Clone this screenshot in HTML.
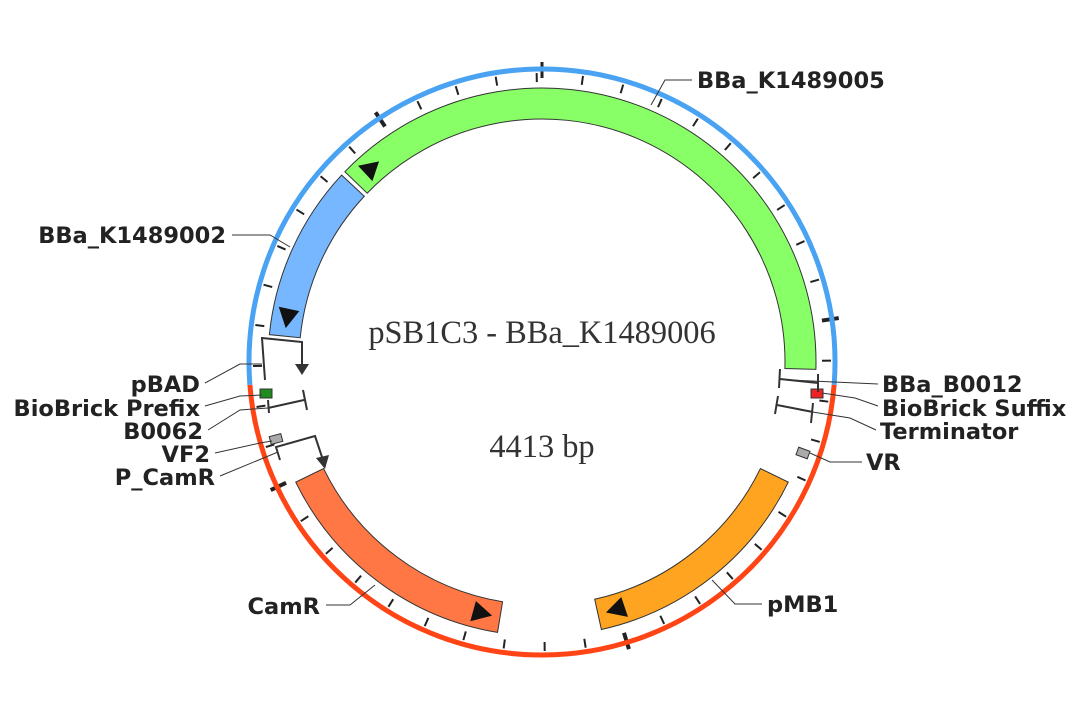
<!DOCTYPE html>
<html><head><meta charset="utf-8"><style>
body{margin:0;background:#fff}
svg{display:block}
.lb{font-family:"DejaVu Sans","Liberation Sans",sans-serif;font-weight:bold;font-size:22.5px;fill:#222}
.ld{fill:none;stroke:#333;stroke-width:1}
</style></head><body>
<svg id="map" width="1087" height="720" viewBox="0 0 1087 720" xmlns="http://www.w3.org/2000/svg">
<text x="542" y="343" text-anchor="middle" font-family="Liberation Serif,serif" font-size="32.4" fill="#333">pSB1C3 - BBa_K1489006</text>
<text x="542" y="457" text-anchor="middle" font-family="Liberation Serif,serif" font-size="32.4" fill="#333">4413 bp</text>
</svg>
<script>
const total = 4413;
const ringStart = [1158, 3255];
const featNames = ['BBa_K1489005','BBa_K1489002','CamR','pMB1'];
const featStart = [3849, 3380, 2321, 1422];
const featEnd = [1122, 3837, 2991, 2053];
const featColor = ['#88ff66','#77b7ff','#ff7744','#ffa420'];
const featArrowAt = [3849, 3380, 2321, 2053];
const arrowBaseOff = [35, 75, 75, -75];
const arrowTipOff = [85, 22, 22, -22];
const C = {x:542, y:362};
const svg = document.getElementById('map');
const NS = 'http://www.w3.org/2000/svg';
function ang(bp){return bp/total*2*Math.PI;}
function pt(bp,r){const a=ang(bp);return [C.x+r*Math.sin(a), C.y-r*Math.cos(a)];}
function mk(tag,attrs){const e=document.createElementNS(NS,tag);for(const k in attrs)e.setAttribute(k,attrs[k]);svg.insertBefore(e,svg.firstChild);return e;}
function span(a,b){let d=b-a;if(d<0)d+=total;return d;}
function arc(a,b,r){const p=pt(a,r),q=pt(b,r);const lg=span(a,b)>total/2?1:0;return `M${p[0]},${p[1]} A${r},${r} 0 ${lg} 1 ${q[0]},${q[1]}`;}
let e=mk('path',{d:arc(ringStart[1],ringStart[0],293),fill:'none',stroke:'#4aa3f2','stroke-width':5});


e=mk('path',{d:arc(ringStart[0],ringStart[1],293),fill:'none',stroke:'#ff4415','stroke-width':5});


for(let bp=100;bp<total;bp+=100){
  const major=bp%1000===0;
  const a=pt(bp,major?283:280),b=pt(bp,major?300:289);
  e=mk('line',{x1:a[0],y1:a[1],x2:b[0],y2:b[1],stroke:'#222','stroke-width':major?4:2});
  
  
}
e=mk('line',{x1:542,y1:62,x2:542,y2:78,stroke:'#222','stroke-width':3});


const r1=243,r2=274;
featNames.forEach((n,i)=>{
  const s=featStart[i],t=featEnd[i];
  const p1=pt(s,r2),p2=pt(t,r2),p3=pt(t,r1),p4=pt(s,r1);
  const lg=span(s,t)>total/2?1:0;
  const d=`M${p1[0]},${p1[1]} A${r2},${r2} 0 ${lg} 1 ${p2[0]},${p2[1]} L${p3[0]},${p3[1]} A${r1},${r1} 0 ${lg} 0 ${p4[0]},${p4[1]} Z`;
  const f=mk('path',{d:d,fill:featColor[i],stroke:'#333','stroke-width':1});
  
  
});
featNames.forEach((n,i)=>{
  const a=featArrowAt[i];
  const b0=a+arrowBaseOff[i], tip=a+arrowTipOff[i];
  const q1=pt(b0,r1+5),q2=pt(b0,r2-5),q3=pt(tip,(r1+r2)/2);
  const tr=document.createElementNS(NS,'polygon');
  tr.setAttribute('points',`${q1} ${q2} ${q3}`);
  tr.setAttribute('fill','#111');
  
  
  svg.appendChild(tr);
});
</script>
<svg style="position:absolute;left:0;top:0" width="1087" height="720">
<rect x="260" y="389" width="12" height="9" fill="#1e8c1e" stroke="#333"/>
<rect x="811" y="389" width="12" height="9" fill="#ee2222" stroke="#333"/>
<rect x="270" y="435" width="12" height="8" fill="#aaa" stroke="#333" transform="rotate(-15 276 439)"/>
<rect x="797" y="449" width="12" height="8" fill="#aaa" stroke="#333" transform="rotate(20 803 453)"/>
<g fill="none" stroke="#333" stroke-width="2">
<path d="M265,380 L262,338 L302,342 L302,366"/><polygon points="295,364 309,364 302,375" fill="#333" stroke="none"/></g>
<g fill="none" stroke="#333" stroke-width="2">
<path d="M268,408 L304,400 M268,400 L269,413 M303,390 L307,410"/></g>
<g fill="none" stroke="#333" stroke-width="2">
<path d="M280,460 L276,447 L315,436 L323,460"/><polygon points="316,458 329,455 325,469" fill="#333" stroke="none"/></g>
<g fill="none" stroke="#333" stroke-width="2">
<path d="M780,379 L818,383 M780,369 L779,388 M818,374 L818,392"/></g>
<g fill="none" stroke="#333" stroke-width="2">
<path d="M777,405 L813,412 M778,396 L775,414 M813,403 L811,423"/></g>
<path class="ld" d="M651,105 L665,80 L692,80"/>
<path class="ld" d="M232,235 L270,235 L290,247"/>
<path class="ld" d="M205,383 L240,364 L262,364"/>
<path class="ld" d="M205,406 L240,396 L262,395"/>
<path class="ld" d="M208,430 L240,410 L268,408"/>
<path class="ld" d="M215,453 L260,443 L272,441"/>
<path class="ld" d="M220,476 L278,452"/>
<path class="ld" d="M326,605 L350,605 L375,585"/>
<path class="ld" d="M762,604 L735,604 L712,580"/>
<path class="ld" d="M862,462 L830,462 L810,453"/>
<path class="ld" d="M878,384 L790,380"/>
<path class="ld" d="M878,406 L855,398 L822,393"/>
<path class="ld" d="M876,430 L850,418 L800,410"/>
<text class="lb" x="697" y="88">BBa_K1489005</text>
<text class="lb" x="226" y="243" text-anchor="end">BBa_K1489002</text>
<text class="lb" x="200" y="392" text-anchor="end">pBAD</text>
<text class="lb" x="200" y="416" text-anchor="end">BioBrick Prefix</text>
<text class="lb" x="203" y="439" text-anchor="end">B0062</text>
<text class="lb" x="210" y="462" text-anchor="end">VF2</text>
<text class="lb" x="215" y="485" text-anchor="end">P_CamR</text>
<text class="lb" x="320" y="614" text-anchor="end">CamR</text>
<text class="lb" x="767" y="612">pMB1</text>
<text class="lb" x="866" y="470">VR</text>
<text class="lb" x="882" y="392">BBa_B0012</text>
<text class="lb" x="882" y="416">BioBrick Suffix</text>
<text class="lb" x="880" y="439">Terminator</text>
</svg>
</body></html>
